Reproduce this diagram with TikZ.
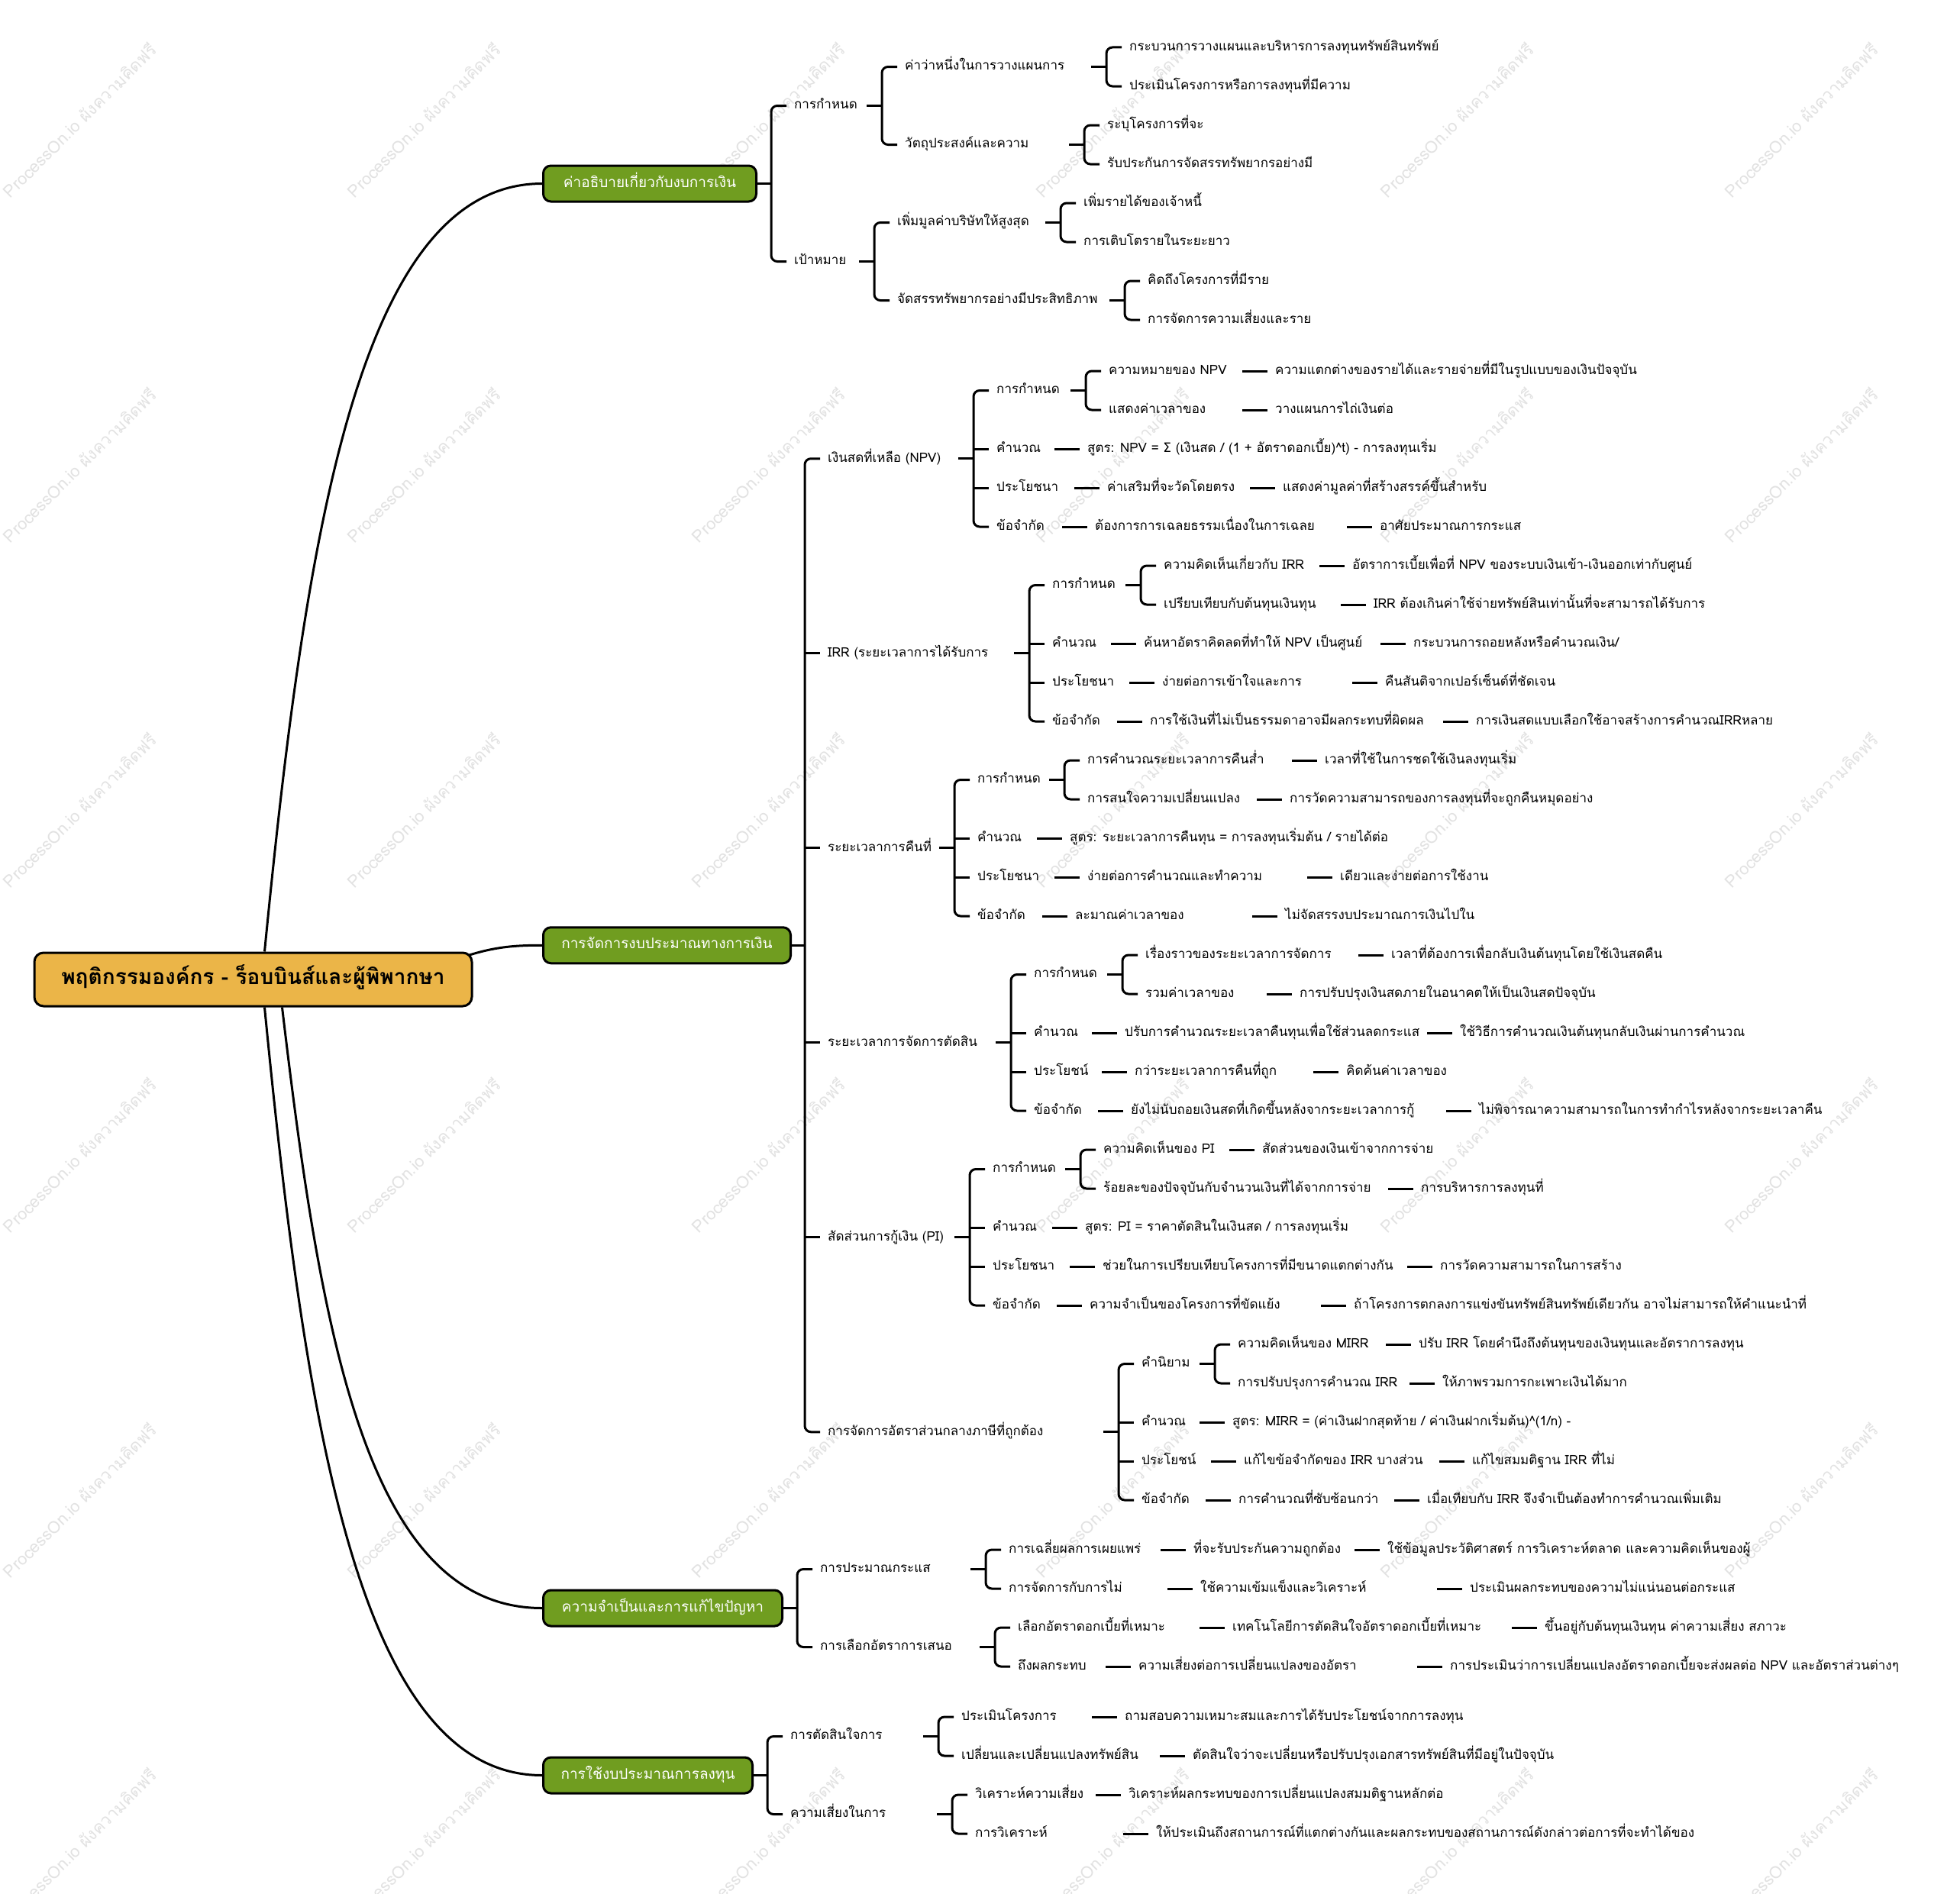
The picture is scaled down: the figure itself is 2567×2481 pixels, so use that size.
\documentclass[tikz,border=0pt]{standalone}
\usepackage{fontspec}
\usetikzlibrary{calc}
\newfontfamily\thai[Script=Thai]{Loma}
\newfontfamily\symf{DejaVu Sans}
\definecolor{lvone}{HTML}{709D20}
\definecolor{rootc}{HTML}{EBB548}
\definecolor{wmc}{HTML}{E2E2E2}
\pgfdeclarelayer{bg}
\pgfsetlayers{bg,main}
\tikzset{
  lf/.style={anchor=west, inner sep=0pt, font=\thai\fontsize{17}{20}\selectfont, text height=13pt, text depth=4.5pt},
  ln/.style={line width=3pt, black},
  gnode/.style={anchor=west, draw=black, line width=3pt, fill=lvone, rounded corners=10pt, text=white, font=\thai\fontsize{19}{22}\selectfont, minimum height=47pt, inner xsep=0pt, text height=14pt, text depth=5pt},
  rootn/.style={draw=black, line width=3pt, fill=rootc, rounded corners=12pt, font=\thai\bfseries\fontsize{28}{32}\selectfont, minimum width=573pt, minimum height=70pt, text height=20pt, text depth=7pt},
  wmk/.style={rotate=45, text=wmc, font=\thai\fontsize{22}{24}\selectfont, inner sep=0pt},
  dto/.style={to path={($(\tikztotarget.west)+(-43,0)$) -- ($(\tikztotarget.west)+(-10,0)$)}},
}
\newcommand\mmbr[3]{%
  \draw[ln, rounded corners=8pt] ($(#2.west)+(-10,0)$) -- ($(#2.west)+(-30,0)$) -- ($(#3.west)+(-30,0)$) -- ($(#3.west)+(-10,0)$);
  \draw[ln] ($(#2.west |- #1.west)+(-50,0)$) -- ($(#2.west |- #1.west)+(-30,0)$);
}
\newcommand\mmbrm[4]{%
  \mmbr{#1}{#2}{#3}%
  \foreach \mmc in {#4} {\draw[ln] ($(\mmc.west)+(-30,0)$) -- ($(\mmc.west)+(-10,0)$);}
}
\newcommand\mmgb[3]{%
  \draw[ln, rounded corners=8pt] ($(#2.west)+(-10,0)$) -- ($(#2.west)+(-30,0)$) -- ($(#3.west)+(-30,0)$) -- ($(#3.west)+(-10,0)$);
  \draw[ln] (#1.east) -- ($(#2.west |- #1.east)+(-30,0)$);
}
\begin{document}
\begin{tikzpicture}[x=1pt,y=-1pt]
\useasboundingbox (0,0) rectangle (2567,2481);
\begin{pgfonlayer}{bg}
\fill[white] (0,0) rectangle (2567,2481);
\begin{scope}
\clip (0,0) rectangle (2567,2481);
\foreach \i in {0,...,5} {\foreach \j in {0,...,5} {
  \node[wmk] (wm\i\j) at ({104+451*\i},{157+452*\j}) {ProcessOn.io ผังความคิดฟรี};
}}
\end{scope}
\end{pgfonlayer}

% root and level 1
\node[rootn] (root) at (331.5,1283) {พฤติกรรมองค์กร - ร็อบบินส์และผู้พิพากษา};
\node[gnode, minimum width=279pt] (n1) at (710,240.5) {ค่าอธิบายเกี่ยวกับงบการเงิน};
\node[gnode, minimum width=324pt] (n2) at (710,1238.25) {การจัดการงบประมาณทางการเงิน};
\node[gnode, minimum width=313pt] (n3) at (710,2106.5) {ความจำเป็นและการแก้ไขปัญหา};
\node[gnode, minimum width=274pt] (n4) at (710,2325.5) {การใช้งบประมาณการลงทุน};

% branch 1
\node[lf] (a1) at (1040,138.5) {การกำหนด};
\node[lf] (a11) at (1185,87.5) {ค่าว่าหนึ่งในการวางแผนการ};
\node[lf] (a111) at (1479,62) {กระบวนการวางแผนและบริหารการลงทุนทรัพย์สินทรัพย์};
\node[lf] (a112) at (1479,113) {ประเมินโครงการหรือการลงทุนที่มีความ};
\node[lf] (a12) at (1185,189.5) {วัตถุประสงค์และความ};
\node[lf] (a121) at (1450,164) {ระบุโครงการที่จะ};
\node[lf] (a122) at (1450,215) {รับประกันการจัดสรรทรัพยากรอย่างมี};
\node[lf] (a2) at (1040,342.5) {เป้าหมาย};
\node[lf] (a21) at (1175,291.5) {เพิ่มมูลค่าบริษัทให้สูงสุด};
\node[lf] (a211) at (1419,266) {เพิ่มรายได้ของเจ้าหนี้};
\node[lf] (a212) at (1419,317) {การเติบโตรายในระยะยาว};
\node[lf] (a22) at (1175,393.5) {จัดสรรทรัพยากรอย่างมีประสิทธิภาพ};
\node[lf] (a221) at (1503,368) {คิดถึงโครงการที่มีราย};
\node[lf] (a222) at (1503,419) {การจัดการความเสี่ยงและราย};

% branch 2 : NPV
\node[lf] (b1) at (1084,600.75) {เงินสดที่เหลือ (NPV)};
\node[lf] (b11) at (1305,511.5) {การกำหนด};
\node[lf] (b111) at (1452,486) {ความหมายของ NPV};
\node[lf] (b1111) at (1670,486) {ความแตกต่างของรายได้และรายจ่ายที่มีในรูปแบบของเงินปัจจุบัน};
\node[lf] (b112) at (1452,537) {แสดงค่าเวลาของ};
\node[lf] (b1121) at (1670,537) {วางแผนการไถ่เงินต่อ};
\node[lf] (b12) at (1305,588) {คำนวณ};
\node[lf] (b121) at (1424,588) {สูตร: NPV = {\symf Σ} (เงินสด / (1 + อัตราดอกเบี้ย)\textasciicircum t) - การลงทุนเริ่ม};
\node[lf] (b13) at (1305,639) {ประโยชนา};
\node[lf] (b131) at (1450,639) {ค่าเสริมที่จะวัดโดยตรง};
\node[lf] (b1311) at (1680,639) {แสดงค่ามูลค่าที่สร้างสรรค์ขึ้นสำหรับ};
\node[lf] (b14) at (1305,690) {ข้อจำกัด};
\node[lf] (b141) at (1434,690) {ต้องการการเฉลยธรรมเนื่องในการเฉลย};
\node[lf] (b1411) at (1807,690) {อาศัยประมาณการกระแส};

% IRR
\node[lf] (b2) at (1084,855.75) {IRR (ระยะเวลาการได้รับการ};
\node[lf] (b21) at (1378,766.5) {การกำหนด};
\node[lf] (b211) at (1524,741) {ความคิดเห็นเกี่ยวกับ IRR};
\node[lf] (b2111) at (1771,741) {อัตราการเบี้ยเพื่อที่ NPV ของระบบเงินเข้า-เงินออกเท่ากับศูนย์};
\node[lf] (b212) at (1524,792) {เปรียบเทียบกับต้นทุนเงินทุน};
\node[lf] (b2121) at (1799,792) {IRR ต้องเกินค่าใช้จ่ายทรัพย์สินเท่านั้นที่จะสามารถได้รับการ};
\node[lf] (b22) at (1378,843) {คำนวณ};
\node[lf] (b221) at (1498,843) {ค้นหาอัตราคิดลดที่ทำให้ NPV เป็นศูนย์};
\node[lf] (b2211) at (1851,843) {กระบวนการถอยหลังหรือคำนวณเงิน/};
\node[lf] (b23) at (1378,894) {ประโยชนา};
\node[lf] (b231) at (1522,894) {ง่ายต่อการเข้าใจและการ};
\node[lf] (b2311) at (1814,894) {คืนสันติจากเปอร์เซ็นต์ที่ชัดเจน};
\node[lf] (b24) at (1378,945) {ข้อจำกัด};
\node[lf] (b241) at (1506,945) {การใช้เงินที่ไม่เป็นธรรมดาอาจมีผลกระทบที่ผิดผล};
\node[lf] (b2411) at (1933,945) {การเงินสดแบบเลือกใช้อาจสร้างการคำนวณIRRหลาย};

% payback
\node[lf] (b3) at (1084,1110.75) {ระยะเวลาการคืนที่};
\node[lf] (b31) at (1280,1021.5) {การกำหนด};
\node[lf] (b311) at (1424,996) {การคำนวณระยะเวลาการคืนส่ำ};
\node[lf] (b3111) at (1735,996) {เวลาที่ใช้ในการชดใช้เงินลงทุนเริ่ม};
\node[lf] (b312) at (1424,1047) {การสนใจความเปลี่ยนแปลง};
\node[lf] (b3121) at (1689,1047) {การวัดความสามารถของการลงทุนที่จะถูกคืนหมุดอย่าง};
\node[lf] (b32) at (1280,1098) {คำนวณ};
\node[lf] (b321) at (1401,1098) {สูตร: ระยะเวลาการคืนทุน = การลงทุนเริ่มต้น / รายได้ต่อ};
\node[lf] (b33) at (1280,1149) {ประโยชนา};
\node[lf] (b331) at (1424,1149) {ง่ายต่อการคำนวณและทำความ};
\node[lf] (b3311) at (1755,1149) {เดียวและง่ายต่อการใช้งาน};
\node[lf] (b34) at (1280,1200) {ข้อจำกัด};
\node[lf] (b341) at (1408,1200) {ละมาณค่าเวลาของ};
\node[lf] (b3411) at (1683,1200) {ไม่จัดสรรงบประมาณการเงินไปใน};

% discounted payback
\node[lf] (b4) at (1084,1365.75) {ระยะเวลาการจัดการตัดสิน};
\node[lf] (b41) at (1354,1276.5) {การกำหนด};
\node[lf] (b411) at (1500,1251) {เรื่องราวของระยะเวลาการจัดการ};
\node[lf] (b4111) at (1822,1251) {เวลาที่ต้องการเพื่อกลับเงินต้นทุนโดยใช้เงินสดคืน};
\node[lf] (b412) at (1500,1302) {รวมค่าเวลาของ};
\node[lf] (b4121) at (1702,1302) {การปรับปรุงเงินสดภายในอนาคตให้เป็นเงินสดปัจจุบัน};
\node[lf] (b42) at (1354,1353) {คำนวณ};
\node[lf] (b421) at (1473,1353) {ปรับการคำนวณระยะเวลาคืนทุนเพื่อใช้ส่วนลดกระแส};
\node[lf] (b4211) at (1912,1353) {ใช้วิธีการคำนวณเงินต้นทุนกลับเงินผ่านการคำนวณ};
\node[lf] (b43) at (1354,1404) {ประโยชน์};
\node[lf] (b431) at (1486,1404) {กว่าระยะเวลาการคืนที่ถูก};
\node[lf] (b4311) at (1763,1404) {คิดค้นค่าเวลาของ};
\node[lf] (b44) at (1354,1455) {ข้อจำกัด};
\node[lf] (b441) at (1481,1455) {ยังไม่นับถอยเงินสดที่เกิดขึ้นหลังจากระยะเวลาการกู้};
\node[lf] (b4411) at (1937,1455) {ไม่พิจารณาความสามารถในการทำกำไรหลังจากระยะเวลาคืน};

% PI
\node[lf] (b5) at (1084,1620.75) {สัดส่วนการกู้เงิน (PI)};
\node[lf] (b51) at (1300,1531.5) {การกำหนด};
\node[lf] (b511) at (1445,1506) {ความคิดเห็นของ PI};
\node[lf] (b5111) at (1653,1506) {สัดส่วนของเงินเข้าจากการจ่าย};
\node[lf] (b512) at (1445,1557) {ร้อยละของปัจจุบันกับจำนวนเงินที่ได้จากการจ่าย};
\node[lf] (b5121) at (1861,1557) {การบริหารการลงทุนที่};
\node[lf] (b52) at (1300,1608) {คำนวณ};
\node[lf] (b521) at (1421,1608) {สูตร: PI = ราคาตัดสินในเงินสด / การลงทุนเริ่ม};
\node[lf] (b53) at (1300,1659) {ประโยชนา};
\node[lf] (b531) at (1444,1659) {ช่วยในการเปรียบเทียบโครงการที่มีขนาดแตกต่างกัน};
\node[lf] (b5311) at (1886,1659) {การวัดความสามารถในการสร้าง};
\node[lf] (b54) at (1300,1710) {ข้อจำกัด};
\node[lf] (b541) at (1427,1710) {ความจำเป็นของโครงการที่ขัดแย้ง};
\node[lf] (b5411) at (1773,1710) {ถ้าโครงการตกลงการแข่งขันทรัพย์สินทรัพย์เดียวกัน อาจไม่สามารถให้คำแนะนำที่};

% MIRR
\node[lf] (b6) at (1084,1875.75) {การจัดการอัตราส่วนกลางภาษีที่ถูกต้อง};
\node[lf] (b61) at (1495,1786.5) {คำนิยาม};
\node[lf] (b611) at (1621,1761) {ความคิดเห็นของ MIRR};
\node[lf] (b6111) at (1858,1761) {ปรับ IRR โดยคำนึงถึงต้นทุนของเงินทุนและอัตราการลงทุน};
\node[lf] (b612) at (1621,1812) {การปรับปรุงการคำนวณ IRR};
\node[lf] (b6121) at (1889,1812) {ให้ภาพรวมการกะเพาะเงินได้มาก};
\node[lf] (b62) at (1495,1863) {คำนวณ};
\node[lf] (b621) at (1614,1863) {สูตร: MIRR = (ค่าเงินฝากสุดท้าย / ค่าเงินฝากเริ่มต้น)\textasciicircum(1/n) -};
\node[lf] (b63) at (1495,1914) {ประโยชน์};
\node[lf] (b631) at (1629,1914) {แก้ไขข้อจำกัดของ IRR บางส่วน};
\node[lf] (b6311) at (1928,1914) {แก้ไขสมมติฐาน IRR ที่ไม่};
\node[lf] (b64) at (1495,1965) {ข้อจำกัด};
\node[lf] (b641) at (1622,1965) {การคำนวณที่ซับซ้อนกว่า};
\node[lf] (b6411) at (1869,1965) {เมื่อเทียบกับ IRR จึงจำเป็นต้องทำการคำนวณเพิ่มเติม};

% branch 3
\node[lf] (c1) at (1074,2055.5) {การประมาณกระแส};
\node[lf] (c11) at (1321,2030) {การเฉลี่ยผลการเผยแพร่};
\node[lf] (c111) at (1563,2030) {ที่จะรับประกันความถูกต้อง};
\node[lf] (c1111) at (1817,2030) {ใช้ข้อมูลประวัติศาสตร์ การวิเคราะห์ตลาด และความคิดเห็นของผู้};
\node[lf] (c12) at (1321,2081) {การจัดการกับการไม่};
\node[lf] (c121) at (1572,2081) {ใช้ความเข้มแข็งและวิเคราะห์};
\node[lf] (c1211) at (1925,2081) {ประเมินผลกระทบของความไม่แน่นอนต่อกระแส};
\node[lf] (c2) at (1074,2157.5) {การเลือกอัตราการเสนอ};
\node[lf] (c21) at (1333,2132) {เลือกอัตราดอกเบี้ยที่เหมาะ};
\node[lf] (c211) at (1614,2132) {เทคโนโลยีการตัดสินใจอัตราดอกเบี้ยที่เหมาะ};
\node[lf] (c2111) at (2023,2132) {ขึ้นอยู่กับต้นทุนเงินทุน ค่าความเสี่ยง สภาวะ};
\node[lf] (c22) at (1333,2183) {ถึงผลกระทบ};
\node[lf] (c221) at (1491,2183) {ความเสี่ยงต่อการเปลี่ยนแปลงของอัตรา};
\node[lf] (c2211) at (1899,2183) {การประเมินว่าการเปลี่ยนแปลงอัตราดอกเบี้ยจะส่งผลต่อ NPV และอัตราส่วนต่างๆ};

% branch 4
\node[lf] (d1) at (1035,2274.5) {การตัดสินใจการ};
\node[lf] (d11) at (1259,2249) {ประเมินโครงการ};
\node[lf] (d111) at (1473,2249) {ถามสอบความเหมาะสมและการได้รับประโยชน์จากการลงทุน};
\node[lf] (d12) at (1259,2300) {เปลี่ยนและเปลี่ยนแปลงทรัพย์สิน};
\node[lf] (d121) at (1562,2300) {ตัดสินใจว่าจะเปลี่ยนหรือปรับปรุงเอกสารทรัพย์สินที่มีอยู่ในปัจจุบัน};
\node[lf] (d2) at (1035,2376.5) {ความเสี่ยงในการ};
\node[lf] (d21) at (1277,2351) {วิเคราะห์ความเสี่ยง};
\node[lf] (d211) at (1478,2351) {วิเคราะห์ผลกระทบของการเปลี่ยนแปลงสมมติฐานหลักต่อ};
\node[lf] (d22) at (1277,2402) {การวิเคราะห์};
\node[lf] (d221) at (1514,2402) {ให้ประเมินถึงสถานการณ์ที่แตกต่างกันและผลกระทบของสถานการณ์ดังกล่าวต่อการที่จะทำได้ของ};

% root curves
\begin{pgfonlayer}{bg}
\draw[ln] ([xshift=15pt]root.north) .. controls (400,700) and (470,240.5) .. (n1.west);
\draw[ln] ($(root.north east)+(-60,25)$) .. controls (630,1242) and (660,1238.25) .. (n2.west);
\draw[ln] ([xshift=38pt]root.south) .. controls (420,1747) and (480,2106.5) .. (n3.west);
\draw[ln] ([xshift=15pt]root.south) .. controls (400,1866) and (470,2325.5) .. (n4.west);
\end{pgfonlayer}

% brackets
\mmgb{n1}{a1}{a2}
\mmbr{a1}{a11}{a12}
\mmbr{a2}{a21}{a22}
\mmbr{a11}{a111}{a112}
\mmbr{a12}{a121}{a122}
\mmbr{a21}{a211}{a212}
\mmbr{a22}{a221}{a222}

\mmgb{n2}{b1}{b6}
\foreach \mmc in {b2,b3,b4,b5} {\draw[ln] ($(\mmc.west)+(-30,0)$) -- ($(\mmc.west)+(-10,0)$);}
\mmbrm{b1}{b11}{b14}{b12,b13}
\mmbr{b11}{b111}{b112}
\mmbrm{b2}{b21}{b24}{b22,b23}
\mmbr{b21}{b211}{b212}
\mmbrm{b3}{b31}{b34}{b32,b33}
\mmbr{b31}{b311}{b312}
\mmbrm{b4}{b41}{b44}{b42,b43}
\mmbr{b41}{b411}{b412}
\mmbrm{b5}{b51}{b54}{b52,b53}
\mmbr{b51}{b511}{b512}
\mmbrm{b6}{b61}{b64}{b62,b63}
\mmbr{b61}{b611}{b612}

\mmgb{n3}{c1}{c2}
\mmbr{c1}{c11}{c12}
\mmbr{c2}{c21}{c22}
\mmgb{n4}{d1}{d2}
\mmbr{d1}{d11}{d12}
\mmbr{d2}{d21}{d22}

% single-child dashes
\foreach \p/\c in {b111/b1111,b112/b1121,b12/b121,b13/b131,b131/b1311,b14/b141,b141/b1411,
  b211/b2111,b212/b2121,b22/b221,b221/b2211,b23/b231,b231/b2311,b24/b241,b241/b2411,
  b311/b3111,b312/b3121,b32/b321,b33/b331,b331/b3311,b34/b341,b341/b3411,
  b411/b4111,b412/b4121,b42/b421,b421/b4211,b43/b431,b431/b4311,b44/b441,b441/b4411,
  b511/b5111,b512/b5121,b52/b521,b53/b531,b531/b5311,b54/b541,b541/b5411,
  b611/b6111,b612/b6121,b62/b621,b63/b631,b631/b6311,b64/b641,b641/b6411,
  c11/c111,c111/c1111,c12/c121,c121/c1211,c21/c211,c211/c2111,c22/c221,c221/c2211,
  d11/d111,d12/d121,d21/d211,d22/d221}
  {\draw[ln] (\p) to[dto] (\c);}
\end{tikzpicture}
\end{document}
